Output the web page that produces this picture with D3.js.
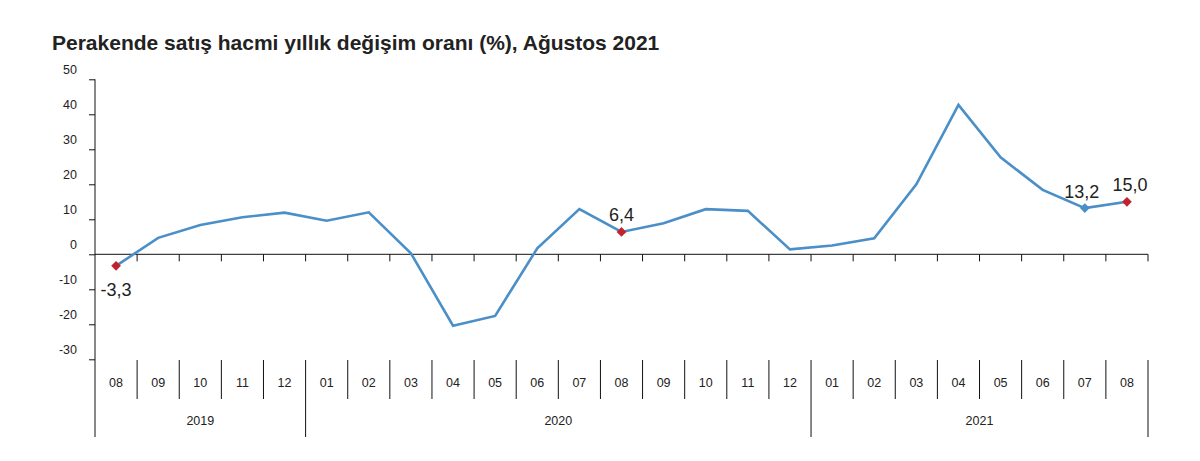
<!DOCTYPE html>
<html>
<head>
<meta charset="utf-8">
<script src="https://cdn.jsdelivr.net/npm/d3@7"></script>
<style>
  body { margin: 0; background: #fff; }
  svg { display: block; font-family: "Liberation Sans", Arial, sans-serif; }
</style>
</head>
<body>
<svg id="chart" width="1200" height="461"></svg>
<script>
// data
const months = ['08','09','10','11','12','01','02','03','04','05','06','07','08','09','10','11','12','01','02','03','04','05','06','07','08']
const years = [
  { year: '2019', from: 0, to: 5 },
  { year: '2020', from: 5, to: 17 },
  { year: '2021', from: 17, to: 25 }
]
const values = [-3.3, 4.7, 8.4, 10.6, 11.9, 9.6, 12.0, 0.3, -20.4, -17.6, 1.7, 12.9, 6.4, 8.9, 12.9, 12.4, 1.4, 2.5, 4.6, 20.0, 42.7, 27.7, 18.4, 13.2, 15.0]
const yTicks = [50, 40, 30, 20, 10, 0, -10, -20, -30]
// highlighted points: index, label, colour key
const labelled = [
  { i: 0, text: '-3,3', kind: 'red', dx: 0, dy: 30 },
  { i: 12, text: '6,4', kind: 'red', dx: 0, dy: -11 },
  { i: 23, text: '13,2', kind: 'blue', dx: -3, dy: -10 },
  { i: 24, text: '15,0', kind: 'red', dx: 3, dy: -11 }
]

const width = 1200
const height = 461
const plotLeft = 95
const plotRight = 1148
const plotTop = 79.3
const plotBottom = 359.3
const lineColor = '#4a8fc8'
const red = '#c0232b'

const svg = d3.select('#chart')

svg.append('rect')
    .attr('width', width)
    .attr('height', height)
    .attr('fill', '#fff')

svg.append('text')
    .text('Perakende satış hacmi yıllık değişim oranı (%), Ağustos 2021')
    .attr('x', 52)
    .attr('y', 50)
    .attr('font-size', 21)
    .attr('font-weight', 'bold')
    .attr('fill', '#222')

const x = d3.scaleBand()
    .domain(d3.range(months.length))
    .range([plotLeft, plotRight])

const y = d3.scaleLinear()
    .domain([-30, 50])
    .range([plotBottom, plotTop])

// y axis
const yAxis = svg.append('g')
    .attr('transform', `translate(${plotLeft},0)`)
    .call(d3.axisLeft(y).tickValues(yTicks).tickFormat(d => String(d)).tickSize(6).tickPadding(12))
yAxis.select('.domain').remove()
yAxis.selectAll('line').attr('stroke', '#111')
yAxis.selectAll('text')
    .attr('dy', '-0.5em')
    .attr('font-size', 12.5)
    .attr('font-family', '"Liberation Sans", Arial, sans-serif')
    .attr('fill', '#222')

// vertical axis line down to the year row
svg.append('line')
    .attr('x1', plotLeft).attr('x2', plotLeft)
    .attr('y1', plotTop).attr('y2', 437)
    .attr('stroke', '#111')

// zero line with ticks at band edges
svg.append('line')
    .attr('x1', plotLeft).attr('x2', plotRight)
    .attr('y1', y(0)).attr('y2', y(0))
    .attr('stroke', '#111')
svg.append('g')
    .attr('transform', `translate(0,${y(0)})`)
  .selectAll('line')
    .data(d3.range(1, months.length + 1))
    .join('line')
    .attr('x1', d => x(d - 1) + x.bandwidth())
    .attr('x2', d => x(d - 1) + x.bandwidth())
    .attr('y1', 0).attr('y2', 7)
    .attr('stroke', '#111')

// month row
const monthRow = svg.append('g')
monthRow.selectAll('line')
    .data(d3.range(1, months.length + 1))
    .join('line')
    .attr('x1', d => x(d - 1) + x.bandwidth())
    .attr('x2', d => x(d - 1) + x.bandwidth())
    .attr('y1', 360)
    .attr('y2', d => years.some(yr => yr.to === d) ? 437 : 399)
    .attr('stroke', '#111')
monthRow.selectAll('text')
    .data(months)
    .join('text')
    .text(d => d)
    .attr('x', (d, i) => x(i) + x.bandwidth() / 2)
    .attr('y', 387)
    .attr('text-anchor', 'middle')
    .attr('font-size', 12.5)
    .attr('fill', '#222')

svg.append('g').selectAll('text')
    .data(years)
    .join('text')
    .text(d => d.year)
    .attr('x', d => (x(d.from) + x(d.to - 1) + x.bandwidth()) / 2)
    .attr('y', 425)
    .attr('text-anchor', 'middle')
    .attr('font-size', 12.5)
    .attr('fill', '#222')

// line
const line = d3.line()
    .x((d, i) => x(i) + x.bandwidth() / 2)
    .y(d => y(d))

svg.append('path')
    .datum(values)
    .attr('d', line)
    .attr('fill', 'none')
    .attr('stroke', lineColor)
    .attr('stroke-width', 2.6)
    .attr('stroke-linejoin', 'miter')

// markers and labels
const diamond = d3.symbol().type(d3.symbolDiamond2).size(60)
const marks = svg.append('g')
marks.selectAll('path')
    .data(labelled)
    .join('path')
    .attr('d', diamond)
    .attr('transform', d => `translate(${x(d.i) + x.bandwidth() / 2},${y(values[d.i])})`)
    .attr('fill', d => d.kind === 'red' ? red : lineColor)

marks.selectAll('text')
    .data(labelled)
    .join('text')
    .text(d => d.text)
    .attr('x', d => x(d.i) + x.bandwidth() / 2 + d.dx)
    .attr('y', d => y(values[d.i]) + d.dy)
    .attr('text-anchor', 'middle')
    .attr('font-size', 18)
    .attr('fill', '#222')
</script>
</body>
</html>
